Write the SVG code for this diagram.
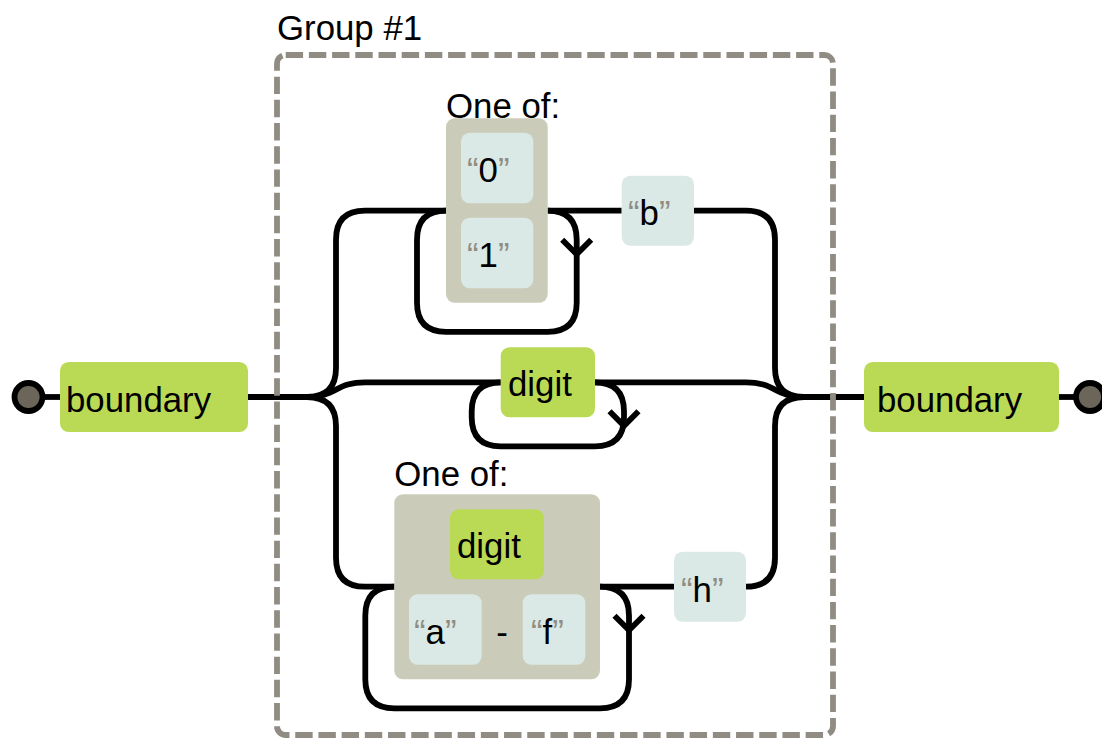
<svg xmlns="http://www.w3.org/2000/svg" width="1102" height="738" viewBox="0 0 1102 738">
<style>
text { font-family: "Liberation Sans", Arial, sans-serif; font-size: 34.8px; fill: #000; }
.q { fill: #908c83; }
.conn path { fill: none; stroke: #000; stroke-width: 5.8; }
.bnd { fill: #bada55; }
.lit { fill: #dae9e5; }
.cs { fill: #cbcbba; }
.anchor { fill: #6b6659; stroke: #000; stroke-width: 5.8; }
.grp { fill: none; stroke: #908c83; stroke-width: 5.8; stroke-dasharray: 17.4 5.8; }
</style>
<rect width="1102" height="738" fill="#fff"/>
<g id="connectors" class="conn">
  <path d="M42,397 H60"/>
  <path d="M248,397 H307"/>
  <path d="M804,397 H864"/>
  <path d="M1059,397 H1076"/>
  <path d="M307,397 q29,0 29,-29 V239.7 q0,-29 29,-29 H446"/>
  <path d="M547.7,210.7 H621.7"/>
  <path d="M694,210.7 H746 q29,0 29,29 V368 q0,29 29,29"/>
  <path d="M446,210.7 q-29,0 -29,29 V302.8 q0,29 29,29 H547.7 q29,0 29,-29 V239.7 q0,-29 -29,-29"/>
  <path d="M562.2,239.7 L576.7,254.2 L591.2,239.7"/>
  <path d="M307,397 c29,0 29,-14.7 58,-14.7 H500.7"/>
  <path d="M595,382.3 H746 c29,0 29,14.7 58,14.7"/>
  <path d="M500.7,382.3 q-29,0 -29,29 V417.3 q0,29 29,29 H595 q29,0 29,-29 V411.3 q0,-29 -29,-29"/>
  <path d="M609.5,411.3 L624,425.8 L638.5,411.3"/>
  <path d="M307,397 q29,0 29,29 V557.7 q0,29 29,29 H394.3"/>
  <path d="M600,586.7 H674"/>
  <path d="M746,586.7 q29,0 29,-29 V426 q0,-29 29,-29"/>
  <path d="M394.3,586.7 q-29,0 -29,29 V679.3 q0,29 29,29 H600 q29,0 29,-29 V615.7 q0,-29 -29,-29"/>
  <path d="M614.5,615.7 L629,630.2 L643.5,615.7"/>
</g>
<g id="start">
  <circle class="anchor" cx="28.5" cy="397" r="14"/>
</g>
<g id="boundary-left">
  <rect class="bnd" x="60" y="362" width="188" height="70" rx="8.7"/>
  <text x="66" y="411.5">boundary</text>
</g>
<g id="charset-01">
  <text x="446" y="117.5">One of:</text>
  <rect class="cs" x="446" y="118.3" width="101.7" height="184.5" rx="8.7"/>
  <g id="lit-0">
    <rect class="lit" x="461" y="132.8" width="72.3" height="70.5" rx="8.7"/>
    <text x="467" y="181.5"><tspan class="q">“</tspan>0<tspan class="q">”</tspan></text>
  </g>
  <g id="lit-1">
    <rect class="lit" x="461" y="217.8" width="72.3" height="70.5" rx="8.7"/>
    <text x="467" y="266.5"><tspan class="q">“</tspan>1<tspan class="q">”</tspan></text>
  </g>
</g>
<g id="lit-b">
  <rect class="lit" x="621.7" y="175.7" width="72.3" height="70" rx="8.7"/>
  <text x="628" y="225"><tspan class="q">“</tspan>b<tspan class="q">”</tspan></text>
</g>
<g id="digit-mid">
  <rect class="bnd" x="500.7" y="347.3" width="94.3" height="70" rx="8.7"/>
  <text x="508" y="395.5">digit</text>
</g>
<g id="charset-hex">
  <text x="394.3" y="486">One of:</text>
  <rect class="cs" x="394.3" y="494.3" width="205.7" height="185" rx="8.7"/>
  <g id="digit-hex">
    <rect class="bnd" x="450" y="509.3" width="94" height="70" rx="8.7"/>
    <text x="457" y="558">digit</text>
  </g>
  <g id="lit-a">
    <rect class="lit" x="409" y="594.3" width="72.7" height="70.5" rx="8.7"/>
    <text x="414" y="644"><tspan class="q">“</tspan>a<tspan class="q">”</tspan></text>
  </g>
  <text x="496.2" y="644">-</text>
  <g id="lit-f">
    <rect class="lit" x="522.7" y="594.3" width="62.6" height="70.5" rx="8.7"/>
    <text x="531" y="644"><tspan class="q">“</tspan>f<tspan class="q">”</tspan></text>
  </g>
</g>
<g id="lit-h">
  <rect class="lit" x="674" y="551.7" width="72" height="70" rx="8.7"/>
  <text x="681" y="601.5"><tspan class="q">“</tspan>h<tspan class="q">”</tspan></text>
</g>
<g id="boundary-right">
  <rect class="bnd" x="864" y="362" width="195" height="70" rx="8.7"/>
  <text x="877" y="411.5">boundary</text>
</g>
<g id="end">
  <circle class="anchor" cx="1090" cy="397" r="14"/>
</g>
<g id="group-1">
  <text x="277" y="40">Group #1</text>
  <rect class="grp" x="277" y="55" width="556" height="680" rx="8.7"/>
</g>
</svg>
